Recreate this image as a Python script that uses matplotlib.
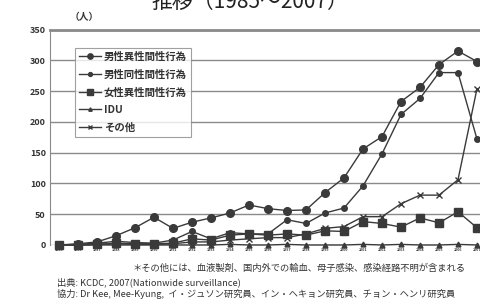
import matplotlib
matplotlib.use("Agg")
import matplotlib.pyplot as plt

plt.rcParams['font.family'] = ['Noto Sans CJK JP', 'DejaVu Sans']

years = list(range(1985, 2008))
series_names = ["男性異性間性行為", "男性同性間性行為", "女性異性間性行為", "IDU", "その他"]
male_hetero = [0, 2, 5, 15, 28, 45, 27, 37, 44, 52, 65, 59, 56, 57, 85, 109, 156, 176, 233, 256, 293, 315, 298]
male_homo = [0, 1, 3, 6, 4, 3, 8, 22, 10, 20, 18, 18, 41, 35, 52, 60, 96, 148, 212, 238, 280, 280, 172]
female_hetero = [0, 0, 1, 3, 2, 2, 3, 10, 8, 16, 18, 16, 18, 16, 23, 22, 38, 35, 29, 44, 36, 54, 28]
idu = [0, 0, 0, 0, 0, 0, 0, 0, 0, 1, 0, 0, 1, 0, 0, 0, 1, 0, 1, 0, 0, 1, 0]
other = [0, 0, 1, 2, 1, 1, 2, 5, 5, 8, 10, 12, 12, 18, 27, 30, 46, 46, 67, 81, 81, 106, 254]
yticks = [0, 50, 100, 150, 200, 250, 300, 350]

fig = plt.figure(figsize=(4.81, 3.04), dpi=100)
ax = fig.add_axes([50/481, 1 - 245/304, 440/481, (245 - 29.5)/304])

col = '#3a3a3a'
styles = [
    dict(marker='o', markersize=5.5),
    dict(marker='o', markersize=4),
    dict(marker='s', markersize=5.5),
    dict(marker='^', markersize=3.5),
    dict(marker='x', markersize=4.5, markeredgewidth=1.0),
]
data = [male_hetero, male_homo, female_hetero, idu, other]
for name, vals, st in zip(series_names, data, styles):
    ax.plot(years, vals, color=col, linewidth=1.0, clip_on=False,
            markerfacecolor=col, markeredgecolor=col, label=name, **st)

ax.set_xlim(1985 - 9/19, 1985 + (440 - 9)/19)
ax.set_ylim(0, 350)
ax.set_yticks(yticks)
ax.set_yticklabels([str(v) for v in yticks], fontsize=6.5, fontweight='bold', color='#333333')
ax.set_xticks(years)
ax.set_xticklabels([str(y) for y in years], fontsize=2.6, fontweight='bold', color='#333333')
ax.tick_params(axis='both', length=0, pad=3)
ax.tick_params(axis='x', pad=2)
ax.grid(axis='y', color='#8a8a8a', linewidth=1.0)
ax.set_axisbelow(True)
for s in ['right', 'bottom']:
    ax.spines[s].set_visible(False)
ax.spines['left'].set_color('#8a8a8a')
ax.spines['top'].set_color('#8a8a8a')
ax.spines['top'].set_linewidth(2.0)

leg = ax.legend(loc='upper left', bbox_to_anchor=(20/440, 1 - 13/215.5), fontsize=7.5,
                frameon=True, fancybox=False, edgecolor='#888888', borderpad=0.4,
                labelspacing=0.72, handlelength=2.1, handletextpad=0.25, markerscale=0.7)
leg.get_frame().set_linewidth(0.8)
for t in leg.get_texts():
    t.set_fontweight('bold')
    t.set_color('#333333')

fig.text(250/481, 1 - 2/304, "推移（1985～2007）", fontsize=15, ha='center', va='center', color='#222222')
fig.text(70/481, 1 - 17/304, "（人）", fontsize=7, ha='left', va='center', fontweight='bold', color='#333333')
fig.text(133/481, 1 - 268/304, "＊その他には、血液製剤、国内外での輸血、母子感染、感染経路不明が含まれる",
         fontsize=6.7, ha='left', va='center', color='#333333')
fig.text(57/481, 1 - 282/304, "出典: KCDC, 2007(Nationwide surveillance)",
         fontsize=6.7, ha='left', va='center', color='#333333')
fig.text(57/481, 1 - 294/304, "協力: Dr Kee, Mee-Kyung,  イ・ジュソン研究員、イン・ヘキョン研究員、チョン・ヘンリ研究員",
         fontsize=6.7, ha='left', va='center', color='#333333')

fig.savefig("out.png", dpi=100)
